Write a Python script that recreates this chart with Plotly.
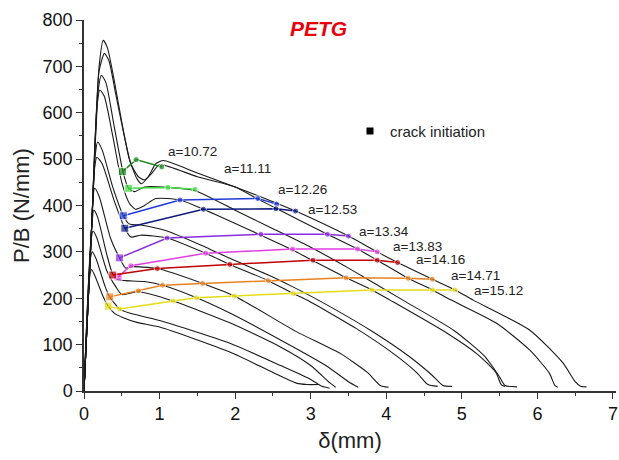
import plotly.graph_objects as go

# ---- load-displacement curves (delta in mm, P/B in N/mm), one per specimen ----
c1_x = [0, 0.1, 0.2, 0.255, 0.31, 0.4, 0.5, 0.6, 0.7, 0.76, 0.85, 0.95, 1.05, 1.5, 2.0, 2.55, 2.8, 3.5, 3.88, 4.15, 4.61, 4.91, 5.15, 5.9, 6.34, 6.5, 6.57, 6.65]
c1_y = [0, 350, 700, 756, 740, 670, 580, 500, 458, 447, 462, 490, 497, 470, 440, 405, 388, 334, 300, 277, 241, 218, 196, 131, 60, 20, 10, 9]

c2_x = [0, 0.1, 0.2, 0.27, 0.33, 0.42, 0.52, 0.62, 0.72, 0.8, 0.9, 1.0, 1.5, 2.0, 2.3, 2.54, 3.22, 3.62, 3.88, 4.29, 4.61, 4.86, 5.46, 5.9, 6.16, 6.23, 6.27]
c2_y = [0, 350, 690, 728, 712, 640, 560, 490, 462, 455, 470, 488, 462, 440, 414, 394, 338, 306, 282, 243, 218, 196, 146, 88, 38, 12, 8]

c3_x = [0, 0.1, 0.19, 0.23, 0.29, 0.4, 0.52, 0.59, 0.67, 0.8, 1.11, 1.47, 2.0, 2.5, 3.0, 3.5, 4.22, 4.9, 5.3, 5.5, 5.57, 5.73]
c3_y = [0, 350, 650, 681, 665, 570, 470, 437, 430, 440, 439, 432, 390, 350, 310, 265, 196, 130, 75, 30, 12, 9]

c4_x = [0, 0.1, 0.17, 0.21, 0.27, 0.38, 0.5, 0.6, 0.68, 0.8, 0.95, 1.27, 1.58, 2.34, 2.76, 3.03, 3.47, 3.81, 4.05, 4.8, 5.2, 5.45, 5.52, 5.57]
c4_y = [0, 350, 610, 649, 635, 550, 450, 405, 392, 400, 415, 412, 392, 336, 304, 281, 244, 218, 196, 125, 80, 40, 14, 10]

c5_x = [0, 0.1, 0.15, 0.18, 0.24, 0.38, 0.52, 0.6, 0.75, 1.1, 1.61, 1.93, 2.44, 2.77, 3.1, 3.8, 4.3, 4.6, 4.75, 4.87]
c5_y = [0, 350, 510, 537, 520, 440, 378, 360, 358, 345, 310, 286, 250, 224, 196, 130, 75, 35, 12, 10]

c6_x = [0, 0.1, 0.14, 0.17, 0.24, 0.4, 0.54, 0.62, 0.75, 1.1, 1.61, 1.93, 2.44, 2.77, 2.95, 3.6, 4.1, 4.4, 4.55, 4.68]
c6_y = [0, 350, 480, 504, 490, 410, 351, 332, 336, 330, 297, 273, 238, 210, 196, 135, 80, 40, 14, 10]

c7_x = [0, 0.1, 0.14, 0.2, 0.35, 0.47, 0.55, 0.62, 0.97, 1.57, 1.99, 2.81, 3.4, 3.75, 3.92, 4.03]
c7_y = [0, 350, 437, 420, 330, 287, 265, 268, 264, 232, 205, 128, 80, 40, 12, 8]

c8_x = [0, 0.1, 0.13, 0.18, 0.3, 0.38, 0.45, 0.55, 0.8, 1.04, 1.49, 1.93, 2.6, 3.2, 3.5, 3.63]
c8_y = [0, 350, 390, 375, 295, 252, 240, 238, 236, 228, 201, 168, 110, 55, 20, 8]

c9_x = [0, 0.09, 0.12, 0.17, 0.3, 0.42, 0.5, 0.72, 1.18, 1.93, 2.6, 3.0, 3.25, 3.33]
c9_y = [0, 320, 345, 330, 260, 225, 208, 214, 194, 147, 95, 55, 18, 8]

c10_x = [0, 0.08, 0.11, 0.16, 0.28, 0.34, 0.47, 0.6, 1.0, 1.93, 2.6, 3.0, 3.15, 3.25]
c10_y = [0, 280, 300, 285, 225, 203, 177, 168, 152, 103, 55, 25, 10, 6]

c11_x = [0, 0.07, 0.1, 0.14, 0.25, 0.32, 0.4, 0.52, 0.7, 1.0, 1.93, 2.5, 2.81, 2.95, 3.1]
c11_y = [0, 240, 262, 250, 205, 183, 168, 158, 148, 138, 84, 40, 17, 14, 14]

curves = [(c1_x, c1_y), (c2_x, c2_y), (c3_x, c3_y), (c4_x, c4_y), (c5_x, c5_y),
          (c6_x, c6_y), (c7_x, c7_y), (c8_x, c8_y), (c9_x, c9_y), (c10_x, c10_y), (c11_x, c11_y)]

# ---- constant crack-length lines; the first point of each is crack initiation ----
crack_labels = ["a=10.72", "a=11.11", "a=12.26", "a=12.53", "a=13.34",
                "a=13.83", "a=14.16", "a=14.71", "a=15.12"]
crack_colors = ["#1e8a1e", "#3ddc3d", "#1f3ad8", "#0c1a80", "#8a2be2",
                "#e23de2", "#c00000", "#e8801e", "#e6dc14"]

a1072_x = [0.51, 0.69, 1.03]
a1072_y = [473, 499, 483]
a1111_x = [0.59, 1.11, 1.47]
a1111_y = [437, 439, 435]
a1226_x = [0.52, 1.27, 2.30, 2.55]
a1226_y = [378, 412, 415, 403]
a1253_x = [0.54, 1.58, 2.54, 2.80]
a1253_y = [351, 392, 393, 388]
a1334_x = [0.47, 1.10, 2.34, 3.22, 3.50]
a1334_y = [287, 330, 338, 338, 334]
a1383_x = [0.45, 0.62, 1.61, 2.76, 3.62, 3.88]
a1383_y = [246, 270, 297, 306, 306, 300]
a1416_x = [0.38, 0.97, 1.93, 3.03, 3.88, 4.15]
a1416_y = [250, 264, 273, 282, 282, 277]
a1471_x = [0.34, 0.72, 1.04, 1.57, 2.44, 3.47, 4.29, 4.61]
a1471_y = [203, 216, 228, 232, 238, 244, 243, 241]
a1512_x = [0.32, 0.47, 1.18, 1.49, 1.99, 2.77, 3.81, 4.61, 4.91]
a1512_y = [183, 177, 194, 201, 205, 210, 218, 218, 218]

crack_lines = [(a1072_x, a1072_y), (a1111_x, a1111_y), (a1226_x, a1226_y),
               (a1253_x, a1253_y), (a1334_x, a1334_y), (a1383_x, a1383_y),
               (a1416_x, a1416_y), (a1471_x, a1471_y), (a1512_x, a1512_y)]

# where each a= label is anchored (left edge, vertical centre)
label_x = [1.10, 1.84, 2.55, 2.95, 3.62, 4.07, 4.38, 4.84, 5.15]
label_y = [516, 479, 434, 392, 344, 312, 283, 250, 217]

x_ticks = [0, 1, 2, 3, 4, 5, 6, 7]

fig = go.Figure()

for cx, cy in curves:
    fig.add_trace(go.Scatter(x=cx, y=cy, mode="lines",
                             line=dict(color="#1a1a1a", width=1.1, shape="spline", smoothing=0.6),
                             showlegend=False, hoverinfo="skip"))

for (lx, ly), col in zip(crack_lines, crack_colors):
    symbols = ["square"] + ["circle"] * (len(lx) - 1)
    sizes = [8] + [6] * (len(lx) - 1)
    fig.add_trace(go.Scatter(x=lx, y=ly, mode="lines+markers",
                             line=dict(color=col, width=1.5),
                             marker=dict(color=col, symbol=symbols, size=sizes),
                             showlegend=False))

# legend entry for the initiation marker
fig.add_trace(go.Scatter(x=[None], y=[None], mode="markers",
                         marker=dict(symbol="square", color="black", size=7),
                         name="crack initiation", showlegend=True))

for txt, x, y in zip(crack_labels, label_x, label_y):
    fig.add_annotation(x=x, y=y, text=txt, showarrow=False, xanchor="left", yanchor="middle",
                       borderpad=0,
                       font=dict(family="Liberation Sans, Arial", size=13.5, color="#222222"))

fig.add_annotation(x=0.44, y=0.978, xref="paper", yref="paper", text="<b><i>PETG</i></b>",
                   showarrow=False, xanchor="center", yanchor="middle",
                   font=dict(family="Liberation Sans, Arial", size=21, color="#e8000b"))

axis_common = dict(showline=True, linecolor="#333333", linewidth=1.5, ticks="outside",
                   ticklen=6, tickwidth=1.3, tickcolor="#333333", showgrid=False, zeroline=False,
                   tickfont=dict(family="Liberation Sans, Arial", size=18, color="#111111"),
                   mirror=False, automargin=False, ticklabeloverflow="allow")

fig.update_xaxes(range=[0, 7.04], tickmode="array", tickvals=x_ticks,
                 ticktext=[str(v) for v in x_ticks],
                 minor=dict(ticks="outside", ticklen=3, tickwidth=1.2, tickcolor="#333333", dtick=0.5),
                 title=dict(text="δ(mm)", standoff=9,
                            font=dict(family="Liberation Sans, Arial", size=22, color="#222222")),
                 **axis_common)
fig.update_yaxes(range=[0, 800], dtick=100,
                 minor=dict(ticks="outside", ticklen=3, tickwidth=1.2, tickcolor="#333333", dtick=50),
                 title=dict(text="P/B (N/mm)", standoff=7,
                            font=dict(family="Liberation Sans, Arial", size=22, color="#222222")),
                 **axis_common)

fig.update_layout(
    width=619, height=460,
    margin=dict(l=84, r=3, t=20, b=69),
    plot_bgcolor="white", paper_bgcolor="white",
    legend=dict(x=0.5, y=0.70, xanchor="left", yanchor="middle", bgcolor="rgba(0,0,0,0)",
                font=dict(family="Liberation Sans, Arial", size=15, color="#222222")),
)

fig.write_html("out.html")
